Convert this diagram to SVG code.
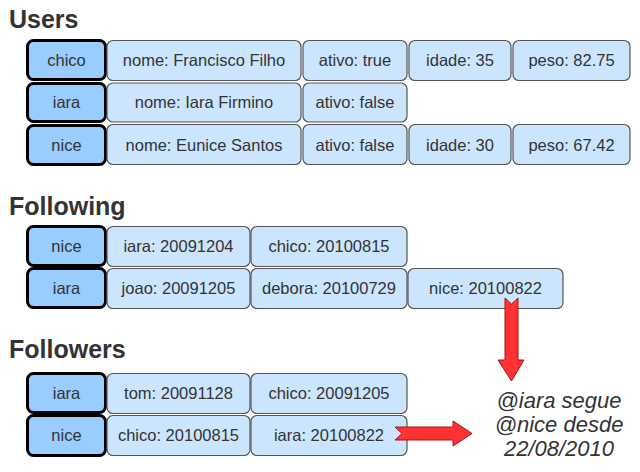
<svg xmlns="http://www.w3.org/2000/svg" width="640" height="472" viewBox="0 0 640 472">
<style>
.title{font-family:"Liberation Sans",Arial,sans-serif;font-weight:bold;font-size:25px;fill:#333}
.key rect{fill:#99ccff;stroke:#000;stroke-width:3}
.val rect{fill:#cce5ff;stroke:#555;stroke-width:1.2}
.t{font-family:"Liberation Sans",Arial,sans-serif;font-size:16.5px;fill:#333;text-anchor:middle}
.note{font-family:"Liberation Sans",Arial,sans-serif;font-size:22px;font-style:italic;fill:#333;text-anchor:middle}
.arrow{fill:#ff3333;stroke:#a01818;stroke-width:1}
</style>
<rect width="640" height="472" fill="#fff"/>
<text class="title" x="9" y="28">Users</text>
<text class="title" x="9" y="215">Following</text>
<text class="title" x="9" y="358">Followers</text>

<!-- Users -->
<g id="users-chico">
<g class="key"><rect x="27.5" y="40.5" width="78" height="39" rx="6"/><text class="t" x="66.5" y="66">chico</text></g>
<g class="val">
<rect x="107" y="40.5" width="194" height="40" rx="6"/><text class="t" x="204" y="66">nome: Francisco Filho</text>
<rect x="303" y="40.5" width="104" height="40" rx="6"/><text class="t" x="355" y="66">ativo: true</text>
<rect x="409" y="40.5" width="102" height="40" rx="6"/><text class="t" x="460" y="66">idade: 35</text>
<rect x="513" y="40.5" width="117" height="40" rx="6"/><text class="t" x="571.5" y="66">peso: 82.75</text>
</g>
</g>
<g id="users-iara">
<g class="key"><rect x="27.5" y="83.5" width="78" height="38" rx="6"/><text class="t" x="66.5" y="108">iara</text></g>
<g class="val">
<rect x="107" y="83" width="194" height="39" rx="6"/><text class="t" x="204" y="108">nome: Iara Firmino</text>
<rect x="303" y="83" width="104" height="39" rx="6"/><text class="t" x="355" y="108">ativo: false</text>
</g>
</g>
<g id="users-nice">
<g class="key"><rect x="27.5" y="125.5" width="78" height="39" rx="6"/><text class="t" x="66.5" y="151">nice</text></g>
<g class="val">
<rect x="107" y="124.5" width="194" height="40" rx="6"/><text class="t" x="204" y="150.5">nome: Eunice Santos</text>
<rect x="303" y="124.5" width="104" height="40" rx="6"/><text class="t" x="355" y="150.5">ativo: false</text>
<rect x="409" y="124.5" width="102" height="40" rx="6"/><text class="t" x="460" y="150.5">idade: 30</text>
<rect x="513" y="124.5" width="117" height="40" rx="6"/><text class="t" x="571.5" y="150.5">peso: 67.42</text>
</g>
</g>

<!-- Following -->
<g id="following-nice">
<g class="key"><rect x="27.5" y="226.5" width="78" height="39" rx="6"/><text class="t" x="66.5" y="252">nice</text></g>
<g class="val">
<rect x="107" y="226.5" width="143" height="40" rx="6"/><text class="t" x="178.5" y="252">iara: 20091204</text>
<rect x="251" y="226.5" width="156" height="40" rx="6"/><text class="t" x="329" y="252">chico: 20100815</text>
</g>
</g>
<g id="following-iara">
<g class="key"><rect x="27.5" y="268.5" width="78" height="39" rx="6"/><text class="t" x="66.5" y="294">iara</text></g>
<g class="val">
<rect x="107" y="268.5" width="143" height="40" rx="6"/><text class="t" x="178.5" y="294">joao: 20091205</text>
<rect x="251" y="268.5" width="156" height="40" rx="6"/><text class="t" x="329" y="294">debora: 20100729</text>
<rect x="408" y="268.5" width="155" height="40" rx="6"/><text class="t" x="485.5" y="294">nice: 20100822</text>
</g>
</g>

<!-- Followers -->
<g id="followers-iara">
<g class="key"><rect x="27.5" y="373.5" width="78" height="39" rx="6"/><text class="t" x="66.5" y="399">iara</text></g>
<g class="val">
<rect x="107" y="373.5" width="143" height="40" rx="6"/><text class="t" x="178.5" y="399">tom: 20091128</text>
<rect x="251" y="373.5" width="156" height="40" rx="6"/><text class="t" x="329" y="399">chico: 20091205</text>
</g>
</g>
<g id="followers-nice">
<g class="key"><rect x="27.5" y="415.5" width="78" height="40" rx="6"/><text class="t" x="66.5" y="441">nice</text></g>
<g class="val">
<rect x="107" y="415.5" width="143" height="40" rx="6"/><text class="t" x="178.5" y="441">chico: 20100815</text>
<rect x="251" y="415.5" width="156" height="40" rx="6"/><text class="t" x="329" y="441">iara: 20100822</text>
</g>
</g>

<g id="note">
<text class="note" x="559" y="408">@iara segue</text>
<text class="note" x="559" y="432">@nice desde</text>
<text class="note" x="559" y="456">22/08/2010</text>
</g>

<g id="connectors">
<polygon class="arrow" points="505,298 511.5,304 518,298 518,360 524,360 511.5,381 498,360 505,360"/>
<polygon class="arrow" points="395,427 453,427 453,421 472,433.5 453,446 453,440 395,440 402,433.5"/>
</g>
</svg>
